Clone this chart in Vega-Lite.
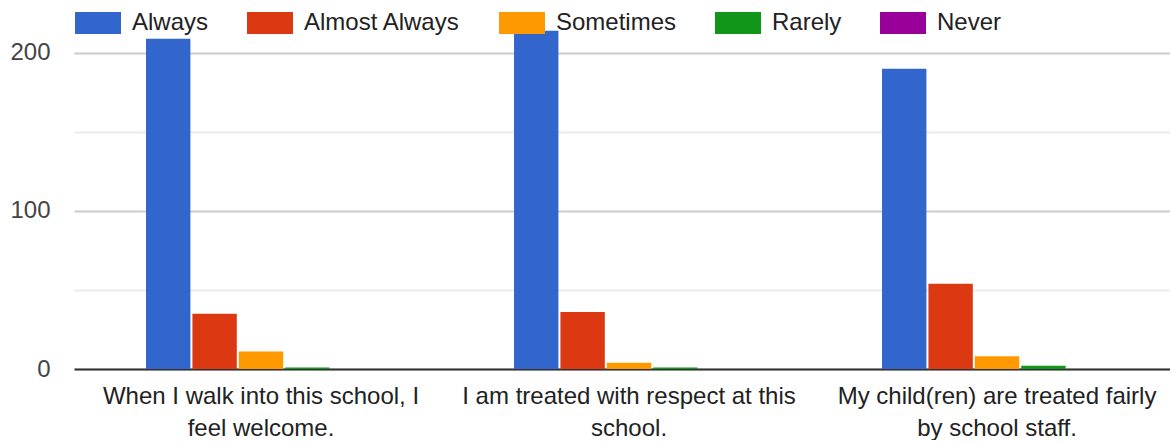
{
  "$schema": "https://vega.github.io/schema/vega-lite/v6.json",
  "width": 1096,
  "height": 369,
  "padding": {"left": 0, "top": 0, "right": 0, "bottom": 0},
  "autosize": {"type": "pad"},
  "background": "#ffffff",
  "config": {
    "view": {"stroke": null},
    "font": "Liberation Sans"
  },
  "data": {
    "values": [
      {"question": "When I walk into this school, I|feel welcome.", "response": "Always", "count": 209},
      {"question": "When I walk into this school, I|feel welcome.", "response": "Almost Always", "count": 35},
      {"question": "When I walk into this school, I|feel welcome.", "response": "Sometimes", "count": 11},
      {"question": "When I walk into this school, I|feel welcome.", "response": "Rarely", "count": 1},
      {"question": "When I walk into this school, I|feel welcome.", "response": "Never", "count": 0},
      {"question": "I am treated with respect at this|school.", "response": "Always", "count": 214},
      {"question": "I am treated with respect at this|school.", "response": "Almost Always", "count": 36},
      {"question": "I am treated with respect at this|school.", "response": "Sometimes", "count": 4},
      {"question": "I am treated with respect at this|school.", "response": "Rarely", "count": 1},
      {"question": "I am treated with respect at this|school.", "response": "Never", "count": 0},
      {"question": "My child(ren) are treated fairly|by school staff.", "response": "Always", "count": 190},
      {"question": "My child(ren) are treated fairly|by school staff.", "response": "Almost Always", "count": 54},
      {"question": "My child(ren) are treated fairly|by school staff.", "response": "Sometimes", "count": 8},
      {"question": "My child(ren) are treated fairly|by school staff.", "response": "Rarely", "count": 2},
      {"question": "My child(ren) are treated fairly|by school staff.", "response": "Never", "count": 0}
    ]
  },
  "mark": {"type": "bar"},
  "encoding": {
    "x": {
      "field": "question",
      "type": "nominal",
      "sort": null,
      "scale": {"paddingInner": 0.375, "paddingOuter": 0.1766, "align": 0.554},
      "axis": {
        "title": null,
        "labelAngle": 0,
        "ticks": false,
        "domainColor": "#333333",
        "domainWidth": 2,
        "labelExpr": "split(datum.label, '|')",
        "labelFont": "Liberation Sans",
        "labelFontSize": 24,
        "labelColor": "#222222",
        "labelLineHeight": 32,
        "labelPadding": 27,
        "labelBaseline": "middle",
        "labelLimit": 0
      }
    },
    "xOffset": {
      "field": "response",
      "type": "nominal",
      "sort": ["Always", "Almost Always", "Sometimes", "Rarely", "Never"],
      "scale": {"paddingInner": 0.0435, "paddingOuter": 0}
    },
    "y": {
      "field": "count",
      "type": "quantitative",
      "scale": {"domain": [0, 233.5], "nice": false},
      "axis": {
        "title": null,
        "values": [0, 50, 100, 150, 200],
        "labelExpr": "datum.value % 100 === 0 ? datum.label : ''",
        "domain": false,
        "ticks": false,
        "gridColor": {"condition": {"test": "datum.value % 100 === 0", "value": "#cccccc"}, "value": "#ebebeb"},
        "gridWidth": 2,
        "labelFont": "Liberation Sans",
        "labelFontSize": 24,
        "labelColor": "#444444",
        "labelPadding": 24,
        "minExtent": 74
      }
    },
    "color": {
      "field": "response",
      "type": "nominal",
      "scale": {
        "domain": ["Always", "Almost Always", "Sometimes", "Rarely", "Never"],
        "range": ["#3366cc", "#dc3912", "#ff9900", "#109618", "#990099"]
      },
      "legend": {
        "title": null,
        "orient": "none",
        "direction": "horizontal",
        "legendX": 1,
        "legendY": 0,
        "symbolType": "M-1,-0.478L1,-0.478L1,0.478L-1,0.478Z",
        "symbolSize": 2116,
        "symbolStrokeWidth": 0,
        "symbolOpacity": 1,
        "labelFont": "Liberation Sans",
        "labelFontSize": 24,
        "labelColor": "#222222",
        "labelOffset": 11,
        "columnPadding": 38,
        "padding": 0
      }
    }
  }
}
